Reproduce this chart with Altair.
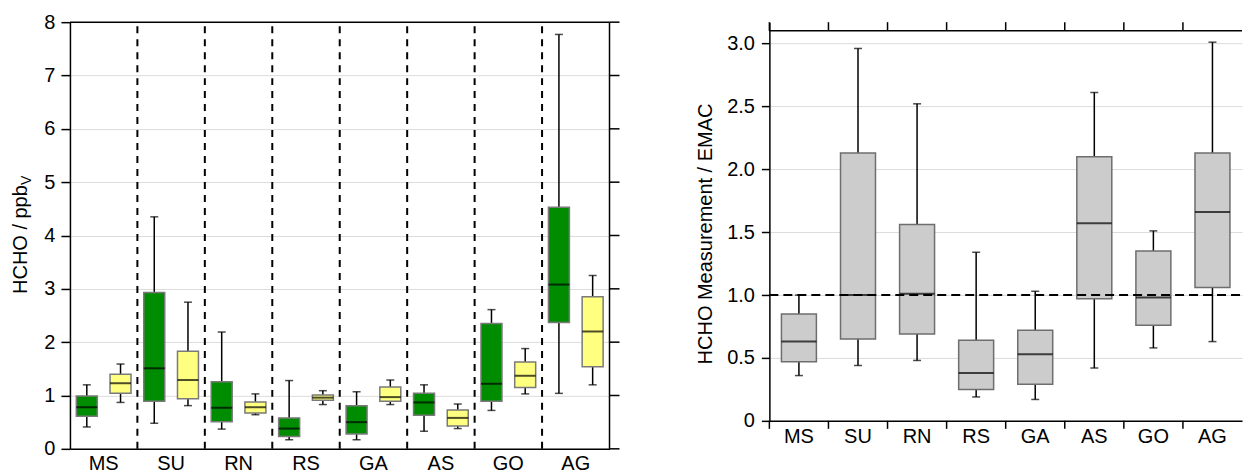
import altair as alt
import pandas as pd

sites = ["MS", "SU", "RN", "RS", "GA", "AS", "GO", "AG"]

# HCHO mixing ratios (ppbv): whisker low, lower quartile, median, upper quartile, whisker high
meas_low = [0.41, 0.48, 0.37, 0.17, 0.17, 0.33, 0.72, 1.04]
meas_q1 = [0.61, 0.89, 0.51, 0.23, 0.28, 0.63, 0.89, 2.37]
meas_med = [0.78, 1.51, 0.77, 0.38, 0.50, 0.87, 1.22, 3.08]
meas_q3 = [0.99, 2.93, 1.26, 0.58, 0.81, 1.04, 2.35, 4.53]
meas_high = [1.20, 4.35, 2.19, 1.28, 1.07, 1.20, 2.61, 7.77]

emac_low = [0.87, 0.81, 0.64, 0.83, 0.83, 0.38, 1.03, 1.20]
emac_q1 = [1.04, 0.94, 0.67, 0.91, 0.89, 0.43, 1.15, 1.54]
emac_med = [1.23, 1.29, 0.78, 0.96, 0.97, 0.58, 1.37, 2.20]
emac_q3 = [1.40, 1.83, 0.88, 1.01, 1.16, 0.73, 1.63, 2.85]
emac_high = [1.59, 2.75, 1.03, 1.09, 1.29, 0.84, 1.88, 3.25]

# measurement / model ratio
ratio_low = [0.36, 0.44, 0.48, 0.19, 0.17, 0.42, 0.58, 0.63]
ratio_q1 = [0.47, 0.65, 0.69, 0.25, 0.29, 0.97, 0.76, 1.06]
ratio_med = [0.63, 1.00, 1.01, 0.38, 0.53, 1.57, 0.98, 1.66]
ratio_q3 = [0.85, 2.13, 1.56, 0.64, 0.72, 2.10, 1.35, 2.13]
ratio_high = [1.00, 2.96, 2.52, 1.34, 1.03, 2.61, 1.51, 3.01]

ppb_ticks = [0, 1, 2, 3, 4, 5, 6, 7, 8]
ratio_ticks = [0, 0.5, 1.0, 1.5, 2.0, 2.5, 3.0]
ratio_ref = 1.0
ratio_top = 3.1

series_names = ["meas", "emac"]
series_colors = ["#008c00", "#ffff80"]

FONT = "Liberation Sans"

left_df = pd.concat([
    pd.DataFrame({"site": sites, "series": "meas", "low": meas_low, "q1": meas_q1,
                  "med": meas_med, "q3": meas_q3, "high": meas_high}),
    pd.DataFrame({"site": sites, "series": "emac", "low": emac_low, "q1": emac_q1,
                  "med": emac_med, "q3": emac_q3, "high": emac_high}),
], ignore_index=True)

right_df = pd.DataFrame({"site": sites, "low": ratio_low, "q1": ratio_q1,
                         "med": ratio_med, "q3": ratio_q3, "high": ratio_high})

bounds_df = pd.DataFrame({"site": sites})
ppb_tick_df = pd.DataFrame({"v": ppb_ticks})
label_df = pd.DataFrame({"k": [0]})

# ---------------- left panel: mixing ratios ----------------
W1, H1 = 540, 427

x1_scale = alt.Scale(domain=sites, paddingInner=0, paddingOuter=0)
x1_axis = alt.Axis(title=None, ticks=False, labelAngle=0, labelPadding=5, grid=False)
x1 = alt.X("site:N", sort=sites, scale=x1_scale, axis=x1_axis)
x1_edge = alt.X("site:N", sort=sites, scale=x1_scale, axis=x1_axis, bandPosition=0)
off1 = alt.XOffset("series:N", sort=series_names,
                   scale=alt.Scale(domain=series_names, paddingInner=0, paddingOuter=0))
y1_scale = alt.Scale(domain=[0, 8], nice=False, zero=True)
y1_axis = alt.Axis(title=None, values=ppb_ticks, tickSize=9, labelPadding=6, grid=True)

base1 = alt.Chart(left_df)

separators = alt.Chart(pd.DataFrame({"site": sites[1:]})).mark_rule(
    color="black", strokeWidth=2, strokeDash=[7, 6]
).encode(x=x1_edge, y=alt.datum(0, scale=y1_scale), y2=alt.datum(8))

whiskers1 = base1.mark_rule(color="black", strokeWidth=1.5).encode(
    x=x1, xOffset=off1, y=alt.Y("low:Q", scale=y1_scale, axis=y1_axis), y2="high:Q")

caps1 = base1.transform_fold(["low", "high"]).mark_tick(
    color="black", size=8, thickness=1.5, orient="horizontal"
).encode(x=x1, xOffset=off1, y=alt.Y("value:Q", scale=y1_scale))

boxes1 = base1.mark_bar(width=21, stroke="#7a7a7a", strokeWidth=1.5).encode(
    x=x1, xOffset=off1, y=alt.Y("q1:Q", scale=y1_scale), y2="q3:Q",
    color=alt.Color("series:N", scale=alt.Scale(domain=series_names, range=series_colors),
                    legend=None))

medians1 = base1.mark_tick(color="black", size=21, thickness=2, orient="horizontal").encode(
    x=x1, xOffset=off1, y=alt.Y("med:Q", scale=y1_scale))

frame_top1 = alt.Chart(label_df).mark_rule(color="black", strokeWidth=1.5).encode(
    x=alt.value(0), x2=alt.value(W1), y=alt.value(0))
frame_right1 = alt.Chart(label_df).mark_rule(color="black", strokeWidth=1.5).encode(
    x=alt.value(W1), y=alt.value(0), y2=alt.value(H1))
ticks_right1 = alt.Chart(ppb_tick_df).mark_rule(color="black", strokeWidth=1.5).encode(
    y=alt.Y("v:Q", scale=y1_scale), x=alt.value(W1), x2=alt.value(W1 + 10))

title1 = alt.Chart(label_df).mark_text(
    text="HCHO / ppb", angle=270, align="left", baseline="alphabetic",
    font=FONT, fontSize=20, color="black"
).encode(x=alt.value(-43), y=alt.value(272))
title1_sub = alt.Chart(label_df).mark_text(
    text="V", angle=270, align="left", baseline="alphabetic",
    font=FONT, fontSize=14, color="black"
).encode(x=alt.value(-39), y=alt.value(163))

left = alt.layer(
    separators, whiskers1, caps1, boxes1, medians1,
    frame_top1, frame_right1, ticks_right1, title1, title1_sub
).properties(width=W1, height=H1)

# ---------------- right panel: ratio ----------------
W2, H2 = 473, 399
Y2_MAX = 3.169

x2_scale = alt.Scale(domain=sites, paddingInner=0, paddingOuter=0)
x2_axis = alt.Axis(title=None, ticks=False, labelAngle=0, labelPadding=6, grid=False)
x2 = alt.X("site:N", sort=sites, scale=x2_scale, axis=x2_axis)
x2_edge = alt.X("site:N", sort=sites, scale=x2_scale, axis=x2_axis, bandPosition=0)
y2_scale = alt.Scale(domain=[0, Y2_MAX], nice=False, zero=True)
y2_axis = alt.Axis(title=None, values=ratio_ticks, tickSize=8, labelPadding=7, grid=True,
                   labelExpr="datum.value == 0 ? '0' : format(datum.value, '.1f')")

base2 = alt.Chart(right_df)

whiskers2 = base2.mark_rule(color="black", strokeWidth=1.5).encode(
    x=x2, y=alt.Y("low:Q", scale=y2_scale, axis=y2_axis), y2="high:Q")

caps2 = base2.transform_fold(["low", "high"]).mark_tick(
    color="black", size=8, thickness=1.5, orient="horizontal"
).encode(x=x2, y=alt.Y("value:Q", scale=y2_scale))

boxes2 = base2.mark_bar(width=35, color="#cccccc", stroke="#6e6e6e", strokeWidth=1.5).encode(
    x=x2, y=alt.Y("q1:Q", scale=y2_scale), y2="q3:Q")

medians2 = base2.mark_tick(color="black", size=35, thickness=2, orient="horizontal").encode(
    x=x2, y=alt.Y("med:Q", scale=y2_scale))

ref_line = alt.Chart(label_df).mark_rule(color="black", strokeWidth=2, strokeDash=[9, 5]).encode(
    y=alt.datum(ratio_ref, scale=y2_scale), x=alt.value(0), x2=alt.value(W2))

frame_top2 = alt.Chart(label_df).mark_rule(color="black", strokeWidth=1.5).encode(
    y=alt.datum(ratio_top, scale=y2_scale), x=alt.value(0), x2=alt.value(W2))

ticks_top2 = alt.Chart(bounds_df).mark_rule(color="black", strokeWidth=1.5).encode(
    x=x2_edge, y=alt.datum(ratio_top, scale=y2_scale), y2=alt.value(0))

ticks_bottom2 = alt.Chart(bounds_df).mark_rule(color="black", strokeWidth=1.5).encode(
    x=x2_edge, y=alt.value(H2), y2=alt.value(H2 + 8))

title2 = alt.Chart(label_df).mark_text(
    text="HCHO Measurement / EMAC", angle=270, align="center", baseline="alphabetic",
    font=FONT, fontSize=20, color="black"
).encode(x=alt.value(-57), y=alt.value(212))

right = alt.layer(
    whiskers2, caps2, boxes2, medians2, ref_line, frame_top2, ticks_top2, ticks_bottom2, title2
).properties(width=W2, height=H2)

chart = alt.hconcat(left, right, spacing=160, bounds="flush").properties(
    padding={"left": 11, "top": 12, "right": 0, "bottom": 0}
).configure(font=FONT).configure_view(stroke=None).configure_axis(
    labelFont=FONT, labelFontSize=20, labelColor="black",
    domainColor="black", domainWidth=1.5, tickColor="black", tickWidth=1.5,
    gridColor="#dcdcdc", gridWidth=1
)

chart.save("out.html", embed_options={"renderer": "svg", "actions": False})
